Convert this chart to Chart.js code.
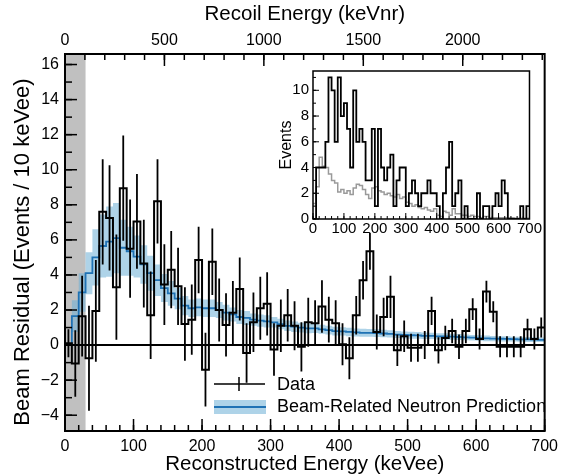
<!DOCTYPE html>
<html>
<head>
<meta charset="utf-8">
<script src="https://cdn.jsdelivr.net/npm/chart.js@4.4.1/dist/chart.umd.min.js"></script>
<style>
  html, body { margin: 0; padding: 0; background: #fff; }
  #wrap { position: relative; width: 564px; height: 475px; }
  #main { position: absolute; left: 0; top: 0; }
  #inset { position: absolute; left: 266px; top: 58px; }
</style>
</head>
<body>
<div id="wrap">
  <canvas id="main" width="564" height="475"></canvas>
  <canvas id="inset" width="278" height="184"></canvas>
</div>
<script>
// 10 keVee bins, 0-700
const binWidth = 10;
const binLow = Array.from({ length: 70 }, (_, i) => i * binWidth);

// beam residual (events / 10 keVee)
const residual = [
  0.1, -1.05, 1.65, -0.75, 1.95, 7.6, 7.25, 3.3, 8.95, 5.5,
  7.05, 4.65, 1.7, 8.2, 3.45, 4.3, 3.35, 1.2, 1.45, 4.85,
  -1.4, 4.75, 2.0, 1.15, 1.85, 3.2, -0.45, 1.3, 2.1, 2.35,
  -0.25, 1.1, 1.7, 1.1, -0.1, 1.3, 1.25, 2.2, 1.45, 1.25,
  0.05, -0.75, 1.7, 3.7, 5.35, 0.75, 1.6, 2.75, -0.3, 0.5,
  -0.15, -0.15, 0.0, 1.95, -0.3, 0.4, 0.8, -0.1, 0.8, 2.05,
  0.35, 3.05, 1.9, -0.1, -0.1, -0.1, -0.1, 0.9, 0.35, 1.0
];
const residualErr = [
  0.8, 1.9, 2.3, 3.0, 2.9, 3.0, 3.0, 3.0, 3.0, 2.8,
  2.7, 2.5, 2.5, 2.4, 2.3, 2.2, 2.2, 2.1, 2.0, 1.9,
  2.1, 1.9, 1.8, 1.8, 1.8, 1.8, 1.7, 1.7, 1.8, 1.8,
  1.5, 1.5, 1.5, 1.4, 1.4, 1.4, 1.3, 1.5, 1.3, 1.3,
  1.2, 1.2, 1.1, 1.1, 1.05, 1.0, 1.1, 1.2, 0.9, 0.9,
  0.8, 0.8, 0.8, 0.8, 0.75, 0.7, 0.7, 0.7, 0.7, 0.62,
  0.6, 0.62, 0.6, 0.6, 0.6, 0.6, 0.6, 0.6, 0.6, 0.57
];

// beam-related neutron prediction and its band
const prediction = [
  0.05, 1.65, 3.0, 4.1, 5.0, 5.65, 5.9, 6.1, 5.55, 5.35,
  5.05, 4.6, 4.1, 3.7, 3.25, 2.95, 2.65, 2.25, 2.1, 2.15,
  2.1, 2.1, 2.0, 1.85, 1.75, 1.6, 1.55, 1.45, 1.4, 1.35,
  1.3, 1.2, 1.1, 1.05, 1.0, 0.95, 0.95, 0.9, 0.85, 0.8,
  0.78, 0.75, 0.72, 0.7, 0.7, 0.68, 0.66, 0.64, 0.6, 0.58,
  0.56, 0.55, 0.53, 0.52, 0.5, 0.5, 0.48, 0.46, 0.44, 0.42,
  0.4, 0.38, 0.37, 0.36, 0.35, 0.34, 0.33, 0.32, 0.31, 0.3
];
const predictionErr = [
  0.05, 0.9, 1.1, 1.2, 1.6, 1.8, 2.0, 2.0, 1.6, 1.4,
  1.2, 1.1, 1.0, 0.9, 0.8, 0.7, 0.6, 0.55, 0.5, 0.5,
  0.5, 0.5, 0.45, 0.45, 0.4, 0.4, 0.4, 0.35, 0.35, 0.35,
  0.3, 0.3, 0.3, 0.3, 0.28, 0.28, 0.26, 0.26, 0.25, 0.25,
  0.24, 0.24, 0.23, 0.23, 0.22, 0.22, 0.21, 0.21, 0.2, 0.2,
  0.2, 0.19, 0.19, 0.18, 0.18, 0.18, 0.17, 0.17, 0.17, 0.16,
  0.16, 0.16, 0.15, 0.15, 0.15, 0.14, 0.14, 0.14, 0.13, 0.13
];

// inset: beam-on events (black) and steady-state background (grey)
const insetEvents = [
  0, 4, 4, 4, 6, 11, 10, 6, 11, 8,
  9, 7, 4, 10, 6, 7, 6, 3, 3, 7,
  1, 7, 4, 3, 4, 5, 1, 3, 4, 4,
  1, 2, 3, 2, 1, 2, 2, 3, 2, 2,
  1, 0, 2, 4, 6, 1, 2, 3, 0, 1,
  0, 0, 0, 2, 0, 1, 1, 0, 1, 2,
  1, 3, 2, 0, 0, 0, 0, 1, 0, 1
];
const insetSteady = [
  1.2, 2.5, 4.8, 4.1, 4.0, 3.5, 3.0, 2.8, 2.1, 2.3,
  2.0, 2.2, 1.9, 2.4, 2.7, 2.6, 2.3, 1.9, 1.6, 2.4,
  2.5, 2.2, 2.1, 1.9, 2.0, 1.8, 1.7, 1.9, 1.6, 1.7,
  1.3, 1.2, 1.0, 1.1, 0.9, 0.8, 0.9, 0.7, 0.6, 0.8,
  0.3, 0.2, 0.6, 0.5, 0.3, 0.8, 0.4, 0.4, 0.3, 0.3,
  0.2, 0.3, 0.2, 0.2, 0.1, 0.2, 0.2, 0.1, 0.1, 0.1,
  0.1, 0.1, 0.1, 0.1, 0.1, 0.05, 0.05, 0.05, 0.05, 0.05
];

const xTicks = [0, 100, 200, 300, 400, 500, 600, 700];
const yTicks = [-4, -2, 0, 2, 4, 6, 8, 10, 12, 14, 16];
const recoilTicks = [0, 500, 1000, 1500, 2000];
const insetXTicks = [0, 100, 200, 300, 400, 500, 600, 700];
const insetYTicks = [0, 2, 4, 6, 8, 10];
const thresholdKeVee = 30;

const FONT = '"Liberation Sans", Arial, Helvetica, sans-serif';
const BLUE = '#1f72b4';
const BAND = 'rgba(107,174,214,0.55)';

Chart.defaults.font.family = FONT;
Chart.defaults.color = '#000';

function range(a, b, step) {
  const out = [];
  for (let v = a; v <= b + 1e-9; v += step) out.push(v);
  return out;
}

function steps(values) {
  const pts = values.map((v, i) => ({ x: binLow[i], y: v }));
  pts.push({ x: binLow[values.length - 1] + binWidth, y: values[values.length - 1] });
  return pts;
}

function plainLabel(v) {
  return v < 0 ? '\u2212' + Math.abs(v) : String(v);
}

function fixTicks(list) {
  return scale => { scale.ticks = list.map(v => ({ value: v })); };
}

function tickMarks(ctx, scale, values, len, side, a) {
  values.forEach(v => {
    const p = scale.getPixelForValue(v);
    ctx.beginPath();
    if (side === 'bottom') { ctx.moveTo(p, a.bottom); ctx.lineTo(p, a.bottom - len); }
    if (side === 'top') { ctx.moveTo(p, a.top); ctx.lineTo(p, a.top + len); }
    if (side === 'left') { ctx.moveTo(a.left, p); ctx.lineTo(a.left + len, p); }
    ctx.stroke();
  });
}

const mainDecor = {
  id: 'mainDecor',
  beforeDatasetsDraw(chart) {
    const { ctx, chartArea: a, scales: { x } } = chart;
    ctx.save();
    ctx.fillStyle = '#c0c0c0';
    const xr = x.getPixelForValue(thresholdKeVee);
    ctx.fillRect(a.left, a.top, xr - a.left, a.bottom - a.top);
    ctx.restore();
  },
  afterDatasetsDraw(chart) {
    const { ctx, chartArea: a, scales: { x, y } } = chart;
    ctx.save();
    ctx.beginPath();
    ctx.rect(a.left, a.top, a.right - a.left, a.bottom - a.top);
    ctx.clip();
    ctx.strokeStyle = '#000';
    ctx.lineWidth = 2;
    ctx.beginPath();
    ctx.moveTo(a.left, y.getPixelForValue(0));
    ctx.lineTo(a.right, y.getPixelForValue(0));
    ctx.stroke();
    ctx.lineWidth = 1.8;
    residual.forEach((v, i) => {
      const px = x.getPixelForValue(binLow[i] + binWidth / 2);
      ctx.beginPath();
      ctx.moveTo(px, y.getPixelForValue(v - residualErr[i]));
      ctx.lineTo(px, y.getPixelForValue(v + residualErr[i]));
      ctx.stroke();
    });
    ctx.restore();
  },
  afterDraw(chart) {
    const { ctx, chartArea: a, scales: { x, x2, y } } = chart;
    ctx.save();
    ctx.strokeStyle = '#000';
    ctx.lineWidth = 2;
    ctx.strokeRect(a.left, a.top, a.right - a.left, a.bottom - a.top);
    ctx.lineWidth = 1.5;
    tickMarks(ctx, x, xTicks, 12, 'bottom', a);
    tickMarks(ctx, x, range(0, 700, 20), 6, 'bottom', a);
    tickMarks(ctx, x2, recoilTicks, 12, 'top', a);
    tickMarks(ctx, x2, range(0, 2400, 100), 6, 'top', a);
    tickMarks(ctx, y, yTicks, 12, 'left', a);
    tickMarks(ctx, y, range(-4, 16, 1), 7, 'left', a);

    // y title
    ctx.fillStyle = '#000';
    ctx.font = '22px ' + FONT;
    ctx.textAlign = 'center';
    ctx.textBaseline = 'middle';
    ctx.translate(23, 252);
    ctx.rotate(-Math.PI / 2);
    ctx.fillText('Beam Residual (Events / 10 keVee)', 0, 0);
    ctx.restore();

    // legend
    ctx.save();
    ctx.strokeStyle = '#000';
    ctx.lineWidth = 1.5;
    ctx.beginPath();
    ctx.moveTo(214, 384); ctx.lineTo(265, 384);
    ctx.moveTo(239, 377); ctx.lineTo(239, 391);
    ctx.stroke();
    ctx.fillStyle = BAND;
    ctx.fillRect(214, 400, 52, 14);
    ctx.strokeStyle = BLUE;
    ctx.lineWidth = 2;
    ctx.beginPath();
    ctx.moveTo(214, 407); ctx.lineTo(266, 407);
    ctx.stroke();
    ctx.fillStyle = '#000';
    ctx.font = '18px ' + FONT;
    ctx.textAlign = 'left';
    ctx.textBaseline = 'middle';
    ctx.fillText('Data', 277, 385);
    ctx.fillText('Beam-Related Neutron Prediction', 277, 407);
    ctx.restore();
  }
};

new Chart(document.getElementById('main'), {
  type: 'line',
  data: {
    datasets: [
      { label: 'Data', data: steps(residual), stepped: 'before', borderColor: '#000', borderWidth: 2, pointRadius: 0, fill: false },
      { label: 'Beam-Related Neutron Prediction', data: steps(prediction), stepped: 'before', borderColor: BLUE, borderWidth: 1.8, pointRadius: 0, fill: false },
      { label: 'low', data: steps(prediction.map((v, i) => v - predictionErr[i])), stepped: 'before', borderWidth: 0, borderColor: 'rgba(0,0,0,0)', pointRadius: 0, fill: false },
      { label: 'high', data: steps(prediction.map((v, i) => v + predictionErr[i])), stepped: 'before', borderWidth: 0, borderColor: 'rgba(0,0,0,0)', pointRadius: 0, fill: '-1', backgroundColor: BAND }
    ]
  },
  options: {
    responsive: false,
    animation: false,
    events: [],
    layout: { padding: { left: 0, right: 16, top: 0, bottom: 0 } },
    plugins: { legend: { display: false }, tooltip: { enabled: false } },
    scales: {
      x: {
        type: 'linear', position: 'bottom', min: 0, max: 700,
        afterBuildTicks: fixTicks(xTicks),
        afterFit: s => { s.height = 44; },
        grid: { display: false, drawTicks: false }, border: { display: false },
        ticks: { font: { size: 16 }, padding: 6, maxRotation: 0, autoSkip: false, callback: plainLabel },
        title: { display: true, text: 'Reconstructed Energy (keVee)', font: { size: 20.5, lineHeight: 1 }, padding: 0 }
      },
      x2: {
        type: 'linear', position: 'top', min: 0, max: 2412,
        afterBuildTicks: fixTicks(recoilTicks),
        afterFit: s => { s.height = 54; },
        grid: { display: false, drawTicks: false }, border: { display: false },
        ticks: { font: { size: 16 }, padding: 4, maxRotation: 0, autoSkip: false, callback: plainLabel },
        title: { display: true, text: 'Recoil Energy (keVnr)', font: { size: 20.5, lineHeight: 1 }, padding: { top: 4, bottom: 0 } }
      },
      y: {
        type: 'linear', min: -4.9, max: 16.6,
        afterBuildTicks: fixTicks(yTicks),
        afterFit: s => { s.width = 65; },
        grid: { display: false, drawTicks: false }, border: { display: false },
        ticks: { font: { size: 16 }, padding: 6, callback: plainLabel }
      }
    }
  },
  plugins: [mainDecor]
});

const insetDecor = {
  id: 'insetDecor',
  beforeDatasetsDraw(chart) {
    const { ctx, chartArea: a } = chart;
    ctx.save();
    ctx.fillStyle = '#fff';
    ctx.fillRect(a.left, a.top, a.right - a.left, a.bottom - a.top);
    ctx.restore();
  },
  afterDraw(chart) {
    const { ctx, chartArea: a, scales: { x, y } } = chart;
    ctx.save();
    ctx.strokeStyle = '#000';
    ctx.lineWidth = 1.5;
    ctx.strokeRect(a.left, a.top, a.right - a.left, a.bottom - a.top);
    ctx.lineWidth = 1;
    tickMarks(ctx, x, insetXTicks, 6, 'bottom', a);
    tickMarks(ctx, x, range(0, 700, 20), 3, 'bottom', a);
    tickMarks(ctx, y, insetYTicks, 6, 'left', a);
    tickMarks(ctx, y, range(0, 11, 1), 3, 'left', a);
    ctx.restore();
  }
};

new Chart(document.getElementById('inset'), {
  type: 'line',
  data: {
    datasets: [
      { label: 'Events', data: steps(insetEvents), stepped: 'before', borderColor: '#000', borderWidth: 1.8, pointRadius: 0, fill: false },
      { label: 'Steady state', data: steps(insetSteady), stepped: 'before', borderColor: '#9a9a9a', borderWidth: 1.5, pointRadius: 0, fill: false }
    ]
  },
  options: {
    responsive: false,
    animation: false,
    events: [],
    layout: { padding: { left: 0, right: 13, top: 8, bottom: 0 } },
    plugins: { legend: { display: false }, tooltip: { enabled: false } },
    scales: {
      x: {
        type: 'linear', min: 0, max: 700,
        afterBuildTicks: fixTicks(insetXTicks),
        afterFit: s => { s.height = 23; },
        grid: { display: false, drawTicks: false }, border: { display: false },
        ticks: { font: { size: 15, lineHeight: 1 }, padding: 2, maxRotation: 0, autoSkip: false }
      },
      y: {
        type: 'linear', min: 0, max: 11.5,
        afterBuildTicks: fixTicks(insetYTicks),
        afterFit: s => { s.width = 47; },
        grid: { display: false, drawTicks: false }, border: { display: false },
        ticks: { font: { size: 15 }, padding: 4 },
        title: { display: true, text: 'Events', font: { size: 16, lineHeight: 1 }, padding: { top: 13, bottom: 0 } }
      }
    }
  },
  plugins: [insetDecor]
});
</script>
</body>
</html>
